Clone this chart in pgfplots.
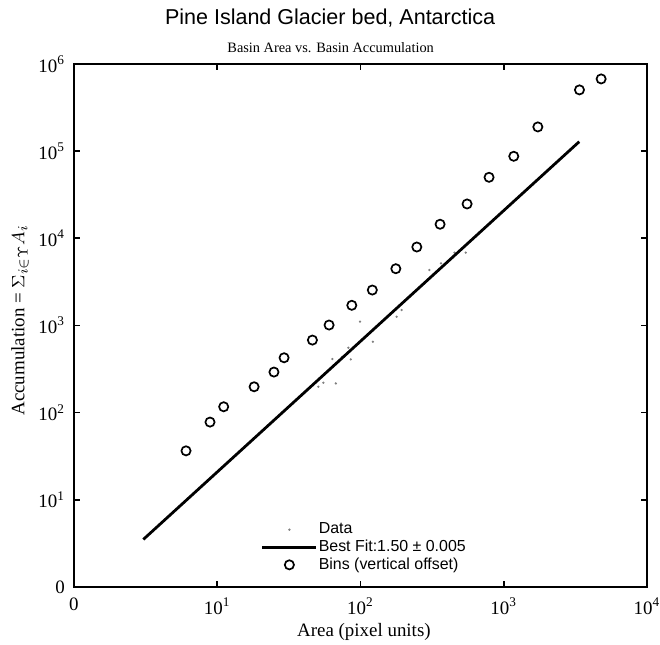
\documentclass[border=0pt]{standalone}
\usepackage{fontspec}
\setmainfont{Liberation Serif}
\newfontfamily\sansf{Liberation Sans}
\usepackage{pgfplots}
\pgfplotsset{compat=1.18}
\pgfplotstableread{
x y
6.06 36.4
8.91 77.8
11.1 116.6
18.1 197.8
24.9 291.7
29.3 425.6
46.2 679
60.4 1011
87.0 1702
121 2548
176.6 4476
247.4 7943
359.6 14490
555 24770
790 50100
1175 87300
1730 189700
3378 504500
4786 674000
}\bins
\pgfplotstableread{
x y
99.3 1104
122 650
82.4 555
63.7 411
74.8 437
85.6 408
55.1 220
67.3 216
50.8 198
179 1259
194 1503
303 4325
365 5164
453 6839
543 6839
}\pts
\begin{document}
\begin{tikzpicture}
\begin{axis}[
  scale only axis,
  clip mode=individual,
  width=286.5bp, height=261.4bp,
  xmode=log, ymode=log,
  xmin=1, xmax=1e4, ymin=1, ymax=1e6,
  xtick={1,10,100,1000,10000},
  ytick={1,10,100,1000,10000,100000,1000000},
  xticklabels={0,10\textsuperscript{1},10\textsuperscript{2},10\textsuperscript{3},10\textsuperscript{4}},
  yticklabels={0,10\textsuperscript{1},10\textsuperscript{2},10\textsuperscript{3},10\textsuperscript{4},10\textsuperscript{5},10\textsuperscript{6}},
  xminorticks=false, yminorticks=false,
  tick align=inside,
  major tick length=3bp,
  axis line style={line width=0.9pt},
  every tick/.style={black, line width=0.8pt},
  xticklabel style={font=\fontsize{9.5}{10}\selectfont, yshift=-2bp},
  yticklabel style={font=\fontsize{9.5}{10}\selectfont, xshift=-1bp},
  legend cell align=left,
  legend style={draw=none, fill=none, at={(rel axis cs:0.3264,0.0253)}, anchor=south west,
    inner sep=0pt, outer sep=0pt, row sep=0pt,
    font=\sansf\fontsize{8}{9}\selectfont,
    nodes={inner sep=0.5bp, text height=6bp, text depth=1.8bp}},
  legend image code/.code={\draw[mark repeat=2,mark phase=2,#1] plot coordinates {(0bp,0bp) (13.5bp,0bp) (27bp,0bp)};},
]
\addplot[only marks, mark=*, mark size=0.35pt, gray] table[x=x,y=y] {\pts};
\addlegendentry{Data}
\addplot[black, line width=1.4pt, mark=none] coordinates {(3.05,3.5) (3365,128400)};
\addlegendentry{Best Fit:1.50 ± 0.005}
\addplot[only marks, mark=o, mark size=2.3bp, mark options={line width=0.85pt, black}] table[x=x,y=y] {\bins};
\addlegendentry{Bins (vertical offset)}
\node[font=\sansf\fontsize{10.8}{12}\selectfont] at (rel axis cs:0.447,1.088) {Pine Island Glacier bed, Antarctica};
\node[font=\fontsize{7.2}{9}\selectfont] at (rel axis cs:0.448,1.032) {Basin Area vs. Basin Accumulation};
\node[font=\fontsize{9.5}{11}\selectfont] at (rel axis cs:0.506,-0.0867) {Area (pixel units)};
\node[font=\fontsize{9.5}{11}\selectfont, rotate=90] at (rel axis cs:-0.0942,0.51) {Accumulation = $\Sigma_{i\in\Upsilon}A_i$};
\coordinate (bbl) at (rel axis cs:-0.129,-0.1096);
\coordinate (btr) at (rel axis cs:1.0227,1.1224);
\end{axis}
\pgfresetboundingbox
\path[use as bounding box] (bbl) rectangle (btr);
\end{tikzpicture}
\end{document}
